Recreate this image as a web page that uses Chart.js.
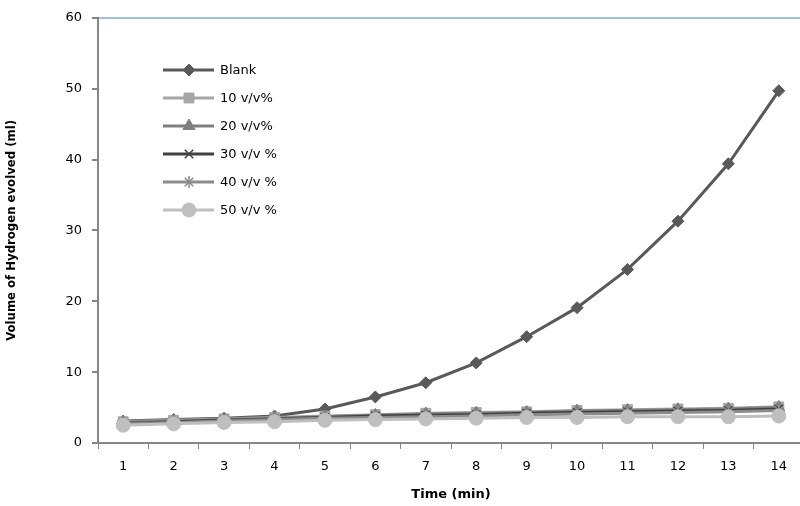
<!DOCTYPE html>
<html>
<head>
<meta charset="utf-8">
<script src="https://cdn.jsdelivr.net/npm/chart.js@4"></script>
<style>
  html, body { margin: 0; padding: 0; background: #fff; overflow: hidden; }
  #wrap { width: 812px; height: 506px; }
</style>
</head>
<body>
<div id="wrap"><canvas id="chart" width="812" height="506"></canvas></div>
<script>
// data
const minutes = ['1', '2', '3', '4', '5', '6', '7', '8', '9', '10', '11', '12', '13', '14'];
const blank = [3.1, 3.3, 3.5, 3.8, 4.8, 6.5, 8.5, 11.3, 15.0, 19.1, 24.5, 31.3, 39.4, 49.7];
const vv10 = [3.0, 3.2, 3.4, 3.6, 3.8, 4.0, 4.2, 4.3, 4.4, 4.6, 4.7, 4.8, 4.9, 5.1];
const vv20 = [2.9, 3.1, 3.3, 3.5, 3.7, 3.9, 4.1, 4.2, 4.3, 4.5, 4.6, 4.7, 4.8, 5.0];
const vv30 = [2.8, 3.0, 3.2, 3.4, 3.6, 3.8, 3.9, 4.0, 4.2, 4.3, 4.4, 4.5, 4.6, 4.8];
const vv40 = [2.7, 2.9, 3.1, 3.3, 3.5, 3.6, 3.7, 3.8, 4.0, 4.1, 4.2, 4.3, 4.4, 4.6];
const vv50 = [2.5, 2.7, 2.9, 3.0, 3.2, 3.3, 3.4, 3.5, 3.6, 3.6, 3.7, 3.7, 3.7, 3.8];
const seriesLabels = ['Blank', '10 v/v%', '20 v/v%', '30 v/v %', '40 v/v %', '50 v/v %'];
const yTicks = [0, 10, 20, 30, 40, 50, 60];

const styles = [
  { color: '#595959', point: 'rectRot', radius: 6 },
  { color: '#a6a6a6', point: 'rect', radius: 7 },
  { color: '#7f7f7f', point: 'triangle', radius: 7 },
  { color: '#404040', point: 'crossRot', radius: 6 },
  { color: '#8c8c8c', point: 'star', radius: 6 },
  { color: '#bfbfbf', point: 'circle', radius: 7 }
];
const values = [blank, vv10, vv20, vv30, vv40, vv50];

const datasets = values.map((v, i) => ({
  label: seriesLabels[i],
  data: v,
  borderColor: styles[i].color,
  backgroundColor: styles[i].color,
  borderWidth: 3,
  pointStyle: styles[i].point,
  pointRadius: styles[i].radius,
  pointBorderWidth: (styles[i].point === 'crossRot' || styles[i].point === 'star') ? 1.5 : 1,
  pointBorderColor: styles[i].color,
  pointBackgroundColor: styles[i].color,
  tension: 0,
  order: 5 - i
}));

// legend sits inside the plot, top left, like the original
const insideLegend = {
  id: 'insideLegend',
  afterDraw(chart) {
    const ctx = chart.ctx;
    ctx.save();
    datasets.forEach((ds, i) => {
      const y = 70 + i * 28;
      ctx.strokeStyle = ds.borderColor;
      ctx.lineWidth = 3;
      ctx.beginPath();
      ctx.moveTo(163, y);
      ctx.lineTo(214, y);
      ctx.stroke();
      ctx.fillStyle = ds.backgroundColor;
      ctx.strokeStyle = ds.borderColor;
      ctx.lineWidth = ds.pointBorderWidth;
      Chart.helpers.drawPoint(ctx, {
        pointStyle: ds.pointStyle, radius: ds.pointRadius, rotation: 0, borderWidth: ds.pointBorderWidth
      }, 189, y);
      ctx.fillStyle = '#000';
      ctx.font = '13px "DejaVu Sans"';
      ctx.textBaseline = 'middle';
      ctx.fillText(ds.label, 220, y + 1);
    });
    ctx.restore();
  }
};

new Chart(document.getElementById('chart'), {
  type: 'line',
  data: { labels: minutes, datasets: datasets },
  options: {
    responsive: false,
    animation: false,
    layout: { padding: { top: 17, right: 4, left: 0, bottom: 0 } },
    plugins: {
      legend: { display: false },
      tooltip: { enabled: false }
    },
    scales: {
      x: {
        offset: true,
        grid: { offset: true, drawOnChartArea: false, tickLength: 6, color: '#868686', lineWidth: 1 },
        border: { color: '#868686', width: 2 },
        ticks: { color: '#000', font: { family: 'DejaVu Sans', size: 13 }, padding: 10, maxRotation: 0 },
        title: {
          display: true, text: 'Time (min)', color: '#000',
          font: { family: 'DejaVu Sans', size: 13, weight: 'bold' }, padding: { top: 6 }
        },
        afterFit(scale) { scale.height = 63; }
      },
      y: {
        min: 0, max: 60,
        afterBuildTicks(scale) { scale.ticks = yTicks.map(v => ({ value: v })); },
        grid: {
          color: c => (c.tick && c.tick.value === 60) ? '#a4bedd' : 'rgba(0,0,0,0)',
          lineWidth: 2,
          tickColor: '#868686',
          tickLength: 6
        },
        border: { color: '#868686', width: 2 },
        ticks: { color: '#000', font: { family: 'DejaVu Sans', size: 13 }, padding: 10 },
        title: {
          display: true, text: 'Volume of Hydrogen evolved (ml)', color: '#000',
          font: { family: '"DejaVu Sans Condensed", "Liberation Sans", sans-serif', size: 13, weight: 'bold' }, padding: { bottom: 4 }
        },
        afterFit(scale) { scale.width = 98; }
      }
    }
  },
  plugins: [insideLegend]
});
</script>
</body>
</html>
